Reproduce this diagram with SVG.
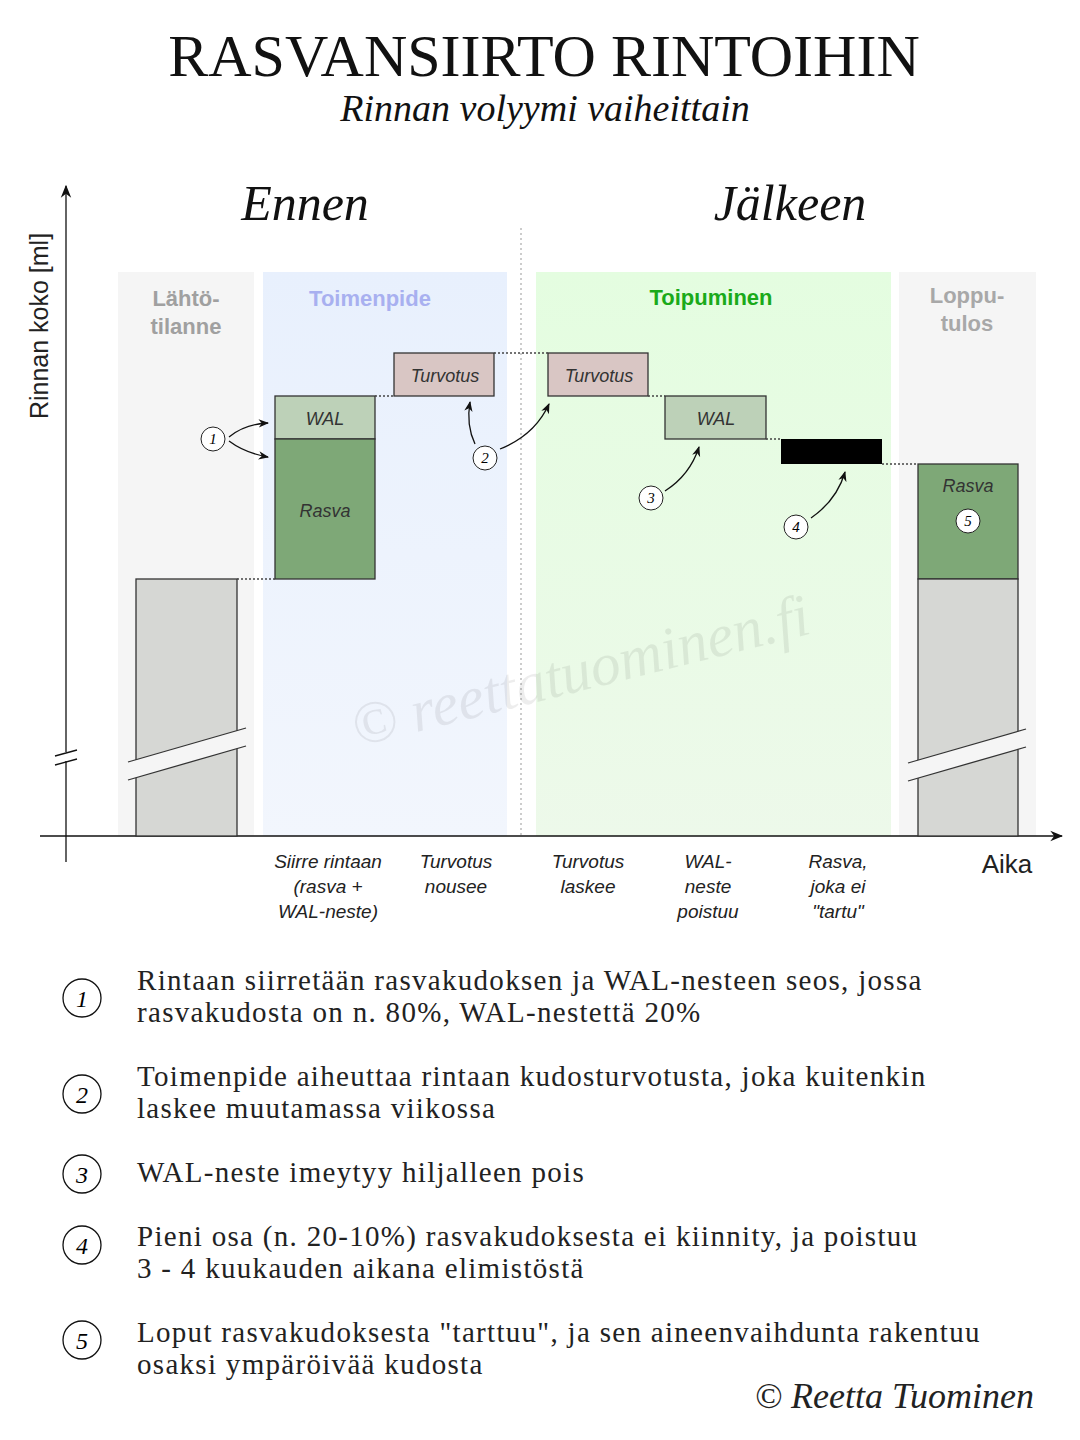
<svg xmlns="http://www.w3.org/2000/svg" width="1080" height="1440" viewBox="0 0 1080 1440">
<defs>
<style>
.ser{font-family:"Liberation Serif","DejaVu Serif",serif}
.san{font-family:"Liberation Sans",Arial,sans-serif}
.bl{font-family:"Liberation Sans",Arial,sans-serif;font-style:italic;font-size:18px;fill:#333;text-anchor:middle}
.cap{font-family:"Liberation Sans",Arial,sans-serif;font-style:italic;font-size:19px;fill:#222;text-anchor:middle}
.ph{font-family:"Liberation Sans",Arial,sans-serif;font-weight:bold;font-size:22px;text-anchor:middle}
.dot{stroke:#444;stroke-width:1.3;stroke-dasharray:2 2;fill:none}
.box{stroke:#333;stroke-width:1.3}
.cn{fill:none;stroke:#111;stroke-width:1.3}
.nc{fill:#fff;stroke:#222;stroke-width:1}
.nt{font-family:"Liberation Serif",serif;font-style:italic;font-size:15px;text-anchor:middle}
.lg{font-family:"Liberation Serif",serif;font-size:29px;letter-spacing:1.3px;fill:#222}
.lc{fill:#fff;stroke:#111;stroke-width:1.3}
.ln{font-family:"Liberation Serif",serif;font-style:italic;font-size:24px;text-anchor:middle}
</style>
<marker id="ah" viewBox="0 0 10 10" refX="9" refY="5" markerWidth="8" markerHeight="8" orient="auto"><path d="M0,1 L10,5 L0,9 L3,5z" fill="#111"/></marker>
<marker id="ax" viewBox="0 0 10 10" refX="9" refY="5" markerWidth="10" markerHeight="10" orient="auto"><path d="M0,1 L10,5 L0,9 L3,5z" fill="#111"/></marker>
<linearGradient id="bg1" x1="0" y1="0" x2="0" y2="1"><stop offset="0" stop-color="#e8f0fd"/><stop offset="1" stop-color="#f2f6fd"/></linearGradient>
<linearGradient id="bg2" x1="0" y1="0" x2="0" y2="1"><stop offset="0" stop-color="#e4fde0"/><stop offset="1" stop-color="#edf9ea"/></linearGradient>
</defs>
<rect width="1080" height="1440" fill="#fff"/>
<g id="title">
<text x="544" y="76" class="ser" font-size="60" text-anchor="middle" fill="#111">RASVANSIIRTO RINTOIHIN</text>
<text x="545" y="121" class="ser" font-size="38" font-style="italic" text-anchor="middle" fill="#111">Rinnan volyymi vaiheittain</text>
<text x="305" y="220" class="ser" font-size="50" font-style="italic" text-anchor="middle" fill="#111">Ennen</text>
<text x="790" y="220" class="ser" font-size="50" font-style="italic" text-anchor="middle" fill="#111">Jälkeen</text>
</g>
<g id="panels">
<rect x="118" y="272" width="136" height="564" fill="#f5f5f5"/>
<rect x="263" y="272" width="244" height="564" fill="url(#bg1)"/>
<rect x="536" y="272" width="355" height="564" fill="url(#bg2)"/>
<rect x="899" y="272" width="137" height="564" fill="#f5f5f5"/>
<line x1="521" y1="228" x2="521" y2="836" stroke="#999" stroke-width="1" stroke-dasharray="2 3"/>
<text x="186" y="306" class="ph" fill="#a0a0a0">Lähtö-</text>
<text x="186" y="334" class="ph" fill="#a0a0a0">tilanne</text>
<text x="370" y="306" class="ph" fill="#a8b0f0">Toimenpide</text>
<text x="711" y="305" class="ph" fill="#1aaa1a">Toipuminen</text>
<text x="967" y="303" class="ph" fill="#a8a8a8">Loppu-</text>
<text x="967" y="331" class="ph" fill="#a8a8a8">tulos</text>
</g>
<text x="585" y="690" class="ser" font-size="60" font-style="italic" fill="#000" fill-opacity="0.07" text-anchor="middle" transform="rotate(-14 585 690)">© reettatuominen.fi</text>
<g id="axes">
<line x1="66" y1="862" x2="66" y2="186" class="cn" stroke-width="1.6" marker-end="url(#ax)"/>
<line x1="40" y1="836" x2="1062" y2="836" class="cn" stroke-width="1.6" marker-end="url(#ax)"/>
<rect x="55" y="752" width="22" height="9" fill="#fff"/>
<line x1="55" y1="756" x2="77" y2="750" class="cn"/>
<line x1="55" y1="765" x2="77" y2="759" class="cn"/>
<text transform="translate(48 326) rotate(-90)" class="san" font-size="25" text-anchor="middle" fill="#222">Rinnan koko [ml]</text>
<text x="1007" y="873" class="san" font-size="26" text-anchor="middle" fill="#222">Aika</text>
</g>
<g id="n-start">
<rect x="136" y="579" width="101" height="257" fill="#d6d7d4" class="box"/>
<polygon points="128,762 246,728 246,746 128,780" fill="#f5f5f5"/>
<line x1="128" y1="762" x2="246" y2="728" stroke="#333" stroke-width="1.3"/>
<line x1="128" y1="780" x2="246" y2="746" stroke="#333" stroke-width="1.3"/>
</g>
<g id="n-wal1"><rect x="275" y="396" width="100" height="43" fill="#bdd1b8" class="box"/><text x="325" y="425" class="bl">WAL</text></g>
<g id="n-rasva1"><rect x="275" y="439" width="100" height="140" fill="#7ea877" class="box"/><text x="325" y="517" class="bl">Rasva</text></g>
<g id="n-turv1"><rect x="394" y="353" width="100" height="43" fill="#d9c6c4" class="box"/><text x="445" y="382" class="bl">Turvotus</text></g>
<g id="n-turv2"><rect x="548" y="353" width="100" height="43" fill="#d9c6c4" class="box"/><text x="599" y="382" class="bl">Turvotus</text></g>
<g id="n-wal2"><rect x="665" y="396" width="101" height="43" fill="#bdd1b8" class="box"/><text x="716" y="425" class="bl">WAL</text></g>
<g id="n-black"><rect x="781" y="439" width="101" height="25" fill="#000"/></g>
<g id="n-end">
<rect x="918" y="464" width="100" height="115" fill="#7ea877" class="box"/>
<text x="968" y="492" class="bl">Rasva</text>
<rect x="918" y="579" width="100" height="257" fill="#d6d7d4" class="box"/>
<polygon points="908,763 1026,729 1026,747 908,781" fill="#f5f5f5"/>
<line x1="908" y1="763" x2="1026" y2="729" stroke="#333" stroke-width="1.3"/>
<line x1="908" y1="781" x2="1026" y2="747" stroke="#333" stroke-width="1.3"/>
</g>
<g id="connectors">
<path class="dot" d="M237,579 H275 M375,396 H394 M494,353 H548 M648,396 H665 M766,439 H781 M882,464 H918"/>
<path class="cn" d="M229,437 Q245,424 268,423" marker-end="url(#ah)"/>
<path class="cn" d="M229,441 Q245,453 268,457" marker-end="url(#ah)"/>
<path class="cn" d="M475,444 Q466,425 470,402" marker-end="url(#ah)"/>
<path class="cn" d="M500,449 Q535,435 549,404" marker-end="url(#ah)"/>
<path class="cn" d="M665,491 Q690,475 699,447" marker-end="url(#ah)"/>
<path class="cn" d="M811,518 Q837,500 845,472" marker-end="url(#ah)"/>
<circle cx="213" cy="439" r="12" class="nc"/><text x="213" y="444" class="nt">1</text>
<circle cx="485" cy="458" r="12" class="nc"/><text x="485" y="463" class="nt">2</text>
<circle cx="651" cy="498" r="12" class="nc"/><text x="651" y="503" class="nt">3</text>
<circle cx="796" cy="527" r="12" class="nc"/><text x="796" y="532" class="nt">4</text>
<circle cx="968" cy="521" r="12" class="nc"/><text x="968" y="526" class="nt">5</text>
</g>
<g id="xlabels">
<text class="cap"><tspan x="328" y="868">Siirre rintaan</tspan><tspan x="328" y="893">(rasva +</tspan><tspan x="328" y="918">WAL-neste)</tspan></text>
<text class="cap"><tspan x="456" y="868">Turvotus</tspan><tspan x="456" y="893">nousee</tspan></text>
<text class="cap"><tspan x="588" y="868">Turvotus</tspan><tspan x="588" y="893">laskee</tspan></text>
<text class="cap"><tspan x="708" y="868">WAL-</tspan><tspan x="708" y="893">neste</tspan><tspan x="708" y="918">poistuu</tspan></text>
<text class="cap"><tspan x="838" y="868">Rasva,</tspan><tspan x="838" y="893">joka ei</tspan><tspan x="838" y="918">"tartu"</tspan></text>
</g>
<g id="legend">
<circle cx="82" cy="998" r="19" class="lc"/><text x="82" y="1007" class="ln">1</text>
<text class="lg"><tspan x="137" y="990">Rintaan siirretään rasvakudoksen ja WAL-nesteen seos, jossa</tspan><tspan x="137" y="1022">rasvakudosta on n. 80%, WAL-nestettä 20%</tspan></text>
<circle cx="82" cy="1094" r="19" class="lc"/><text x="82" y="1103" class="ln">2</text>
<text class="lg"><tspan x="137" y="1086">Toimenpide aiheuttaa rintaan kudosturvotusta, joka kuitenkin</tspan><tspan x="137" y="1118">laskee muutamassa viikossa</tspan></text>
<circle cx="82" cy="1174" r="19" class="lc"/><text x="82" y="1183" class="ln">3</text>
<text class="lg" x="137" y="1182">WAL-neste imeytyy hiljalleen pois</text>
<circle cx="82" cy="1245" r="19" class="lc"/><text x="82" y="1254" class="ln">4</text>
<text class="lg"><tspan x="137" y="1246">Pieni osa (n. 20-10%) rasvakudoksesta ei kiinnity, ja poistuu</tspan><tspan x="137" y="1278">3 - 4 kuukauden aikana elimistöstä</tspan></text>
<circle cx="82" cy="1340" r="19" class="lc"/><text x="82" y="1349" class="ln">5</text>
<text class="lg"><tspan x="137" y="1342">Loput rasvakudoksesta "tarttuu", ja sen aineenvaihdunta rakentuu</tspan><tspan x="137" y="1374">osaksi ympäröivää kudosta</tspan></text>
<text x="1034" y="1408" class="ser" font-size="36" font-style="italic" text-anchor="end" fill="#222">© Reetta Tuominen</text>
</g>
</svg>
